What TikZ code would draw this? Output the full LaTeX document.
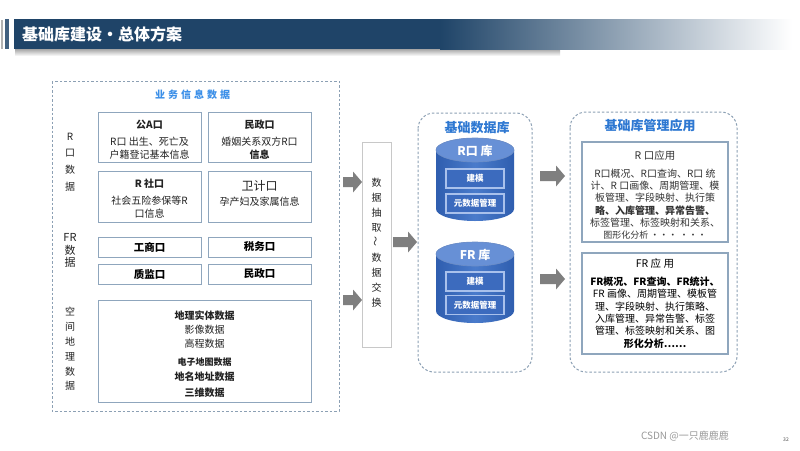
\documentclass[tikz,border=0pt]{standalone}
\usepackage{fontspec}
\setmainfont{Noto Sans CJK SC}
\definecolor{barblue}{HTML}{1F4468}
\definecolor{boxline}{HTML}{8FA6BD}
\definecolor{panelline}{HTML}{8CA0B4}
\definecolor{titleblue}{HTML}{2E78D2}
\definecolor{lighttitle}{HTML}{3B8FE8}
\definecolor{textdark}{HTML}{222222}
\definecolor{cylDark}{HTML}{2F5EAF}
\definecolor{cylMid}{HTML}{4A7BCB}
\definecolor{cylTop}{HTML}{6790D6}
\definecolor{innerline}{HTML}{A9C1EC}
\definecolor{cylFill}{HTML}{3C6BBE}
\definecolor{arrowgray}{HTML}{7F7F7F}
\definecolor{exchline}{HTML}{C8C8C8}
\newcommand{\blkarrow}[3]{% x1, x2, y
  \fill[arrowgray] (#1,#3-5) -- (#2-9,#3-5) -- (#2-9,#3-10.5) -- (#2,#3) -- (#2-9,#3+10.5) -- (#2-9,#3+5) -- (#1,#3+5) -- cycle;}
\begin{document}
\begin{tikzpicture}[x=1pt,y=-1pt,
  every node/.style={inner sep=0pt, outer sep=0pt},
  databox/.style={draw=boxline, line width=1pt, fill=white, minimum width=103pt},
  txt/.style={align=center, font=\fontsize{10}{13}\selectfont, text=textdark},
  vtxt/.style={align=center, text=textdark},
  panel/.style={draw=panelline, line width=1pt, dash pattern=on 2.5pt off 2pt},
  ptitle/.style={font=\fontsize{13}{13}\selectfont\bfseries, text=titleblue},
  innerbox/.style={draw=innerline, line width=1.2pt, fill=cylFill, minimum width=58pt, minimum height=19pt, text=white, font=\fontsize{8.5}{9}\selectfont\bfseries},
  appbox/.style={draw=boxline, line width=1.2pt, fill=white, minimum width=146pt, minimum height=100pt},
  apptxt/.style={align=center, font=\fontsize{10}{12.3}\selectfont, text=textdark}
]
\useasboundingbox (0,0) rectangle (800,450);
\fill[white] (0,0) rectangle (800,450);

% header
\shade[top color=black!35, bottom color=white] (15,49) rectangle (560,56);
\fill[black!30] (1,20) rectangle (3,49);
\fill[barblue!85] (5,19) rectangle (9,49);
\fill[barblue] (14,19) rectangle (441,49);
\shade[left color=barblue, right color=white] (440,19) rectangle (792,49);
\node[anchor=west, font=\fontsize{16}{16}\selectfont\bfseries, text=white] (title) at (22,34) {基础库建设·总体方案};

% left panel
\draw[panel] (52,81) rectangle (339,411);
\node[font=\fontsize{10}{10}\selectfont\bfseries, text=lighttitle] (bizt) at (192.5,95) {业\hspace{3pt}务\hspace{3pt}信\hspace{3pt}息\hspace{3pt}数\hspace{3pt}据};

\node[vtxt, font=\fontsize{10}{16.7}\selectfont] (rkl) at (70,162) {R\\口\\数\\据};
\node[vtxt, font=\fontsize{11}{12.5}\selectfont] (frl) at (70,250.5) {FR\\数\\据};
\node[vtxt, font=\fontsize{10}{14.8}\selectfont] (kjl) at (70,349) {空\\间\\地\\理\\数\\据};

\node[databox, minimum height=50pt] (gongan) at (149.5,137) {};
\node[txt] (gonganT) at (149.5,140) {\textbf{公A口}\\[4pt]R口 出生、死亡及\\户籍登记基本信息};
\node[databox, minimum height=50pt] (minz1) at (259.5,137) {};
\node[txt] (minz1T) at (259.5,140) {\textbf{民政口}\\[4pt]婚姻关系双方R口\\\textbf{信息}};
\node[databox, minimum height=51pt] (shebao) at (149.5,196.5) {};
\node[txt] (shebaoT) at (149.5,199) {\textbf{R 社口}\\[4pt]社会五险参保等R\\口信息};
\node[databox, minimum height=51pt] (weiji) at (259.5,196.5) {};
\node[txt] (weijiT) at (259.5,193) {{\fontsize{12}{14}\selectfont 卫计口}\\[2pt]孕产妇及家属信息};

\node[databox, minimum height=20pt, font=\fontsize{10.5}{11}\selectfont\bfseries] (gs) at (149.5,247) {工商口};
\node[databox, minimum height=20pt, font=\fontsize{10.5}{11}\selectfont\bfseries] (sw) at (259.5,247) {税务口};
\node[databox, minimum height=20pt, font=\fontsize{10.5}{11}\selectfont\bfseries] (zj) at (149.5,274) {质监口};
\node[databox, minimum height=20pt, font=\fontsize{10.5}{11}\selectfont\bfseries] (mz2) at (259.5,274) {民政口};

\node[databox, minimum width=213pt, minimum height=102pt] (spatial) at (204.5,351) {};
\node[txt, font=\fontsize{10}{15}\selectfont] (spatialT) at (204.5,354) {\textbf{地理实体数据}\\[-1pt]影像数据\\[-1pt]高程数据\\[3pt]{\fontsize{9}{10}\selectfont\textbf{电子地图数据}}\\\textbf{地名地址数据}\\[1pt]\textbf{三维数据}};

% arrows into exchange
\blkarrow{343}{362}{182}
\blkarrow{343}{362}{300}

% exchange box
\node[draw=exchline, line width=1pt, fill=white, minimum width=29pt, minimum height=205pt] (exch) at (376.5,244.5) {};
\node[vtxt, font=\fontsize{10}{15}\selectfont] (exchT) at (376.5,243) {数\\据\\抽\\取\\\rotatebox{90}{～}\\数\\据\\交\\换};

\blkarrow{393}{417}{242}

% middle panel
\draw[panel, rounded corners=16pt] (418,113) rectangle (532,372);
\node[ptitle] (dbt) at (477,128) {基础数据库};

\foreach \t/\b in {150/209, 254/311}{
  \shade[left color=cylDark, right color=cylDark, middle color=cylMid] (436,\t) -- (436,\b) arc[start angle=180, end angle=0, x radius=39, y radius=12] -- (514,\t) arc[start angle=0, end angle=-180, x radius=39, y radius=12] -- cycle;
  \fill[cylTop] (475,\t) ellipse [x radius=39, y radius=12];
  \draw[cylDark!70, line width=0.6pt] (475,\t) ellipse [x radius=39, y radius=12];
}
\node[font=\fontsize{12}{12}\selectfont\bfseries, text=white] (rkk) at (475,151) {R口 库};
\node[font=\fontsize{12}{12}\selectfont\bfseries, text=white] (frk) at (475,255) {FR 库};
\node[innerbox] (jm1) at (475,178.5) {建模};
\node[innerbox] (ys1) at (475,203.5) {元数据管理};
\node[innerbox] (jm2) at (475,281.5) {建模};
\node[innerbox] (ys2) at (475,305) {元数据管理};

\blkarrow{540}{565}{176}
\blkarrow{540}{565}{279}

% right panel
\draw[panel, rounded corners=16pt] (570,112) rectangle (737,372);
\node[ptitle] (appt) at (650,126) {基础库管理应用};

\node[appbox] (rapp) at (655,192) {};
\node[apptxt, text=black!80] (rappT) at (655,195) {{\fontsize{10.5}{12}\selectfont R 口应用}\\[5.5pt]R口概况、R口查询、R口 统\\计、R 口画像、周期管理、模\\板管理、字段映射、执行策\\\textbf{略、入库管理、异常告警、}\\标签管理、标签映射和关系、\\{\fontsize{9}{12}\selectfont 图形化分析 ··· ···}};

\node[appbox, minimum height=101pt] (frapp) at (655,303.5) {};
\node[apptxt, text=black] (frappT) at (655,303.5) {{\fontsize{10.5}{12}\selectfont FR 应 用}\\[5.5pt]\textbf{FR概况、FR查询、FR统计、}\\FR 画像、周期管理、模板管\\理、字段映射、执行策略、\\入库管理、异常告警、标签\\管理、标签映射和关系、图\\\textbf{形化分析……}};

% watermark
\node[anchor=west, font=\fontsize{10}{10}\selectfont, text=black!40] (wm) at (641,436) {CSDN @一只鹿鹿鹿};
\node[font=\fontsize{5}{5}\selectfont, text=black!70] (pg) at (786,440) {32};
\end{tikzpicture}
\end{document}
